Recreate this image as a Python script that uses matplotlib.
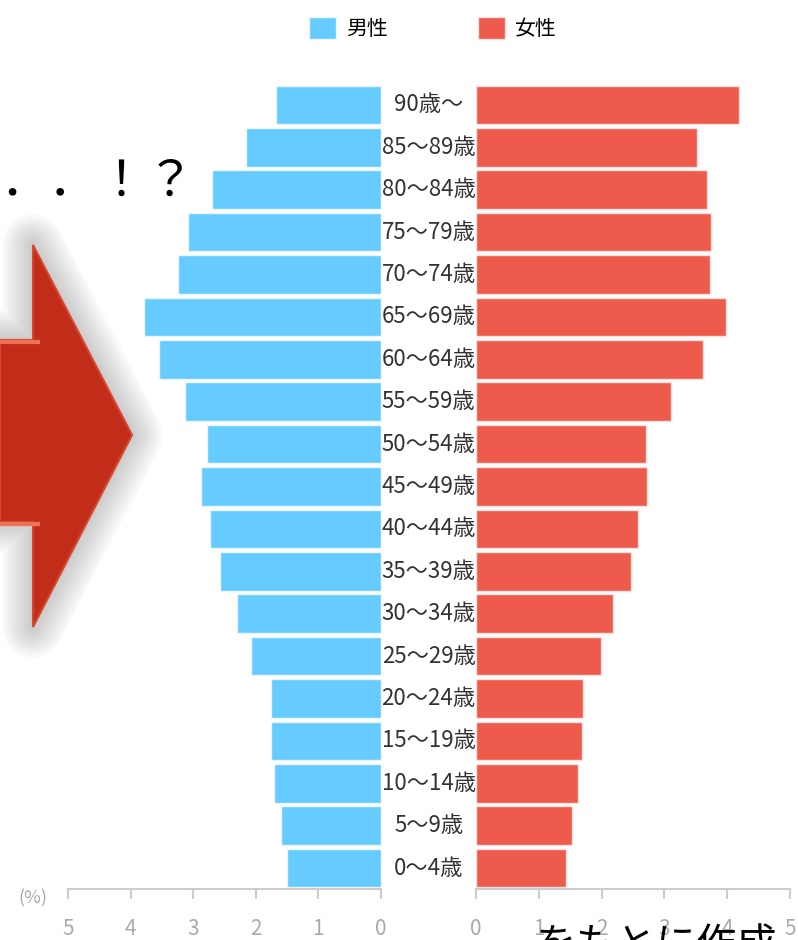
import numpy as np
import matplotlib
matplotlib.use("Agg")
import matplotlib.pyplot as plt
from matplotlib.patches import Polygon

plt.rcParams['font.family'] = ['Noto Sans CJK JP', 'DejaVu Sans']

ages = ["0～4歳", "5～9歳", "10～14歳", "15～19歳", "20～24歳", "25～29歳", "30～34歳",
        "35～39歳", "40～44歳", "45～49歳", "50～54歳", "55～59歳", "60～64歳", "65～69歳",
        "70～74歳", "75～79歳", "80～84歳", "85～89歳", "90歳～"]
male = [1.50, 1.60, 1.71, 1.76, 1.76, 2.08, 2.30, 2.57, 2.73, 2.88, 2.78, 3.13, 3.55, 3.79,
        3.24, 3.08, 2.70, 2.16, 1.68]
female = [1.43, 1.53, 1.62, 1.69, 1.70, 1.99, 2.18, 2.47, 2.58, 2.72, 2.71, 3.11, 3.61, 3.98,
          3.73, 3.74, 3.68, 3.52, 4.19]
ticks = [0, 1, 2, 3, 4, 5]

BLUE = "#66CCFF"; RED = "#EE5A4C"; GRID = "#CCCCCC"; TXT = "#AAAAAA"
W, H = 798, 940
fig = plt.figure(figsize=(W/100, H/100), dpi=100)

def fx(x): return x / W
def fy(y): return 1 - y / H

# arrow + "．．！？" decoration on the left
pts = [(0, 340), (33, 340), (33, 245), (132, 435), (33, 627), (33, 522), (0, 522)]
fpts = [(fx(x), fy(y)) for x, y in pts]
for lw in range(44, 0, -4):
    fig.add_artist(Polygon(fpts, closed=True, transform=fig.transFigure, facecolor="none",
                           edgecolor="#888888", alpha=0.045, lw=lw, joinstyle="round", zorder=0))
fig.add_artist(Polygon(fpts, closed=True, transform=fig.transFigure, facecolor="#C22D1A",
                       edgecolor="#D8452F", lw=1.5, zorder=1))
for y0 in (342, 524):
    fig.add_artist(plt.Line2D([fx(0), fx(38)], [fy(y0), fy(y0)], transform=fig.transFigure,
                              color="#F07058", lw=3, zorder=2))
fig.text(fx(0), fy(196), "．．！？", fontsize=35, color="black", ha="left",
         va="baseline", zorder=2)

axL = fig.add_axes([fx(68), fy(889.2), fx(381) - fx(68), (889.2 - 83.8) / H])
axR = fig.add_axes([fx(476), fy(889.2), fx(790) - fx(476), (889.2 - 83.8) / H])
y = np.arange(len(ages))
axL.barh(y, male, height=0.91, color=BLUE, edgecolor="#E8F7FF", lw=1, zorder=2, label="男性")
axR.barh(y, female, height=0.91, color=RED, edgecolor="#FCE3E0", lw=1, zorder=2, label="女性")
axL.set_xlim(5, 0)
axR.set_xlim(0, 5)
for ax in (axL, axR):
    ax.set_facecolor("none")
    ax.set_ylim(-0.5, len(ages) - 0.5)
    ax.set_yticks([])
    ax.set_xticks(ticks)
    ax.set_xticklabels([str(t) for t in ticks])
    for s in ("top", "left", "right"):
        ax.spines[s].set_visible(False)
    ax.spines["bottom"].set_color(GRID)
    ax.spines["bottom"].set_linewidth(1.5)
    ax.tick_params(axis="x", direction="out", length=7, width=1.5, color=GRID,
                   labelcolor=TXT, labelsize=15, pad=14)

# age labels in the gap, drawn under the bars
for yi, lab in zip(y, ages):
    axL.text(-0.76, yi, lab, ha="center", va="center", fontsize=16, color="#333333",
             clip_on=False, zorder=1)

fig.text(fx(33), fy(898), "(%)", fontsize=13, color=TXT, ha="center", va="center")

h1, l1 = axL.get_legend_handles_labels()
h2, l2 = axR.get_legend_handles_labels()
fig.legend(h1 + h2, l1 + l2, loc="upper center", bbox_to_anchor=(fx(433), fy(-2)), ncol=2,
           frameon=False, fontsize=15, handlelength=1.3, handleheight=1.3,
           columnspacing=4.3, handletextpad=0.5)

# cut-off caption at the bottom edge
fig.text(fx(535), fy(925), "をもとに作成", fontsize=29, color="black", ha="left", va="top",
         zorder=0)

fig.savefig("out.png", dpi=100)
